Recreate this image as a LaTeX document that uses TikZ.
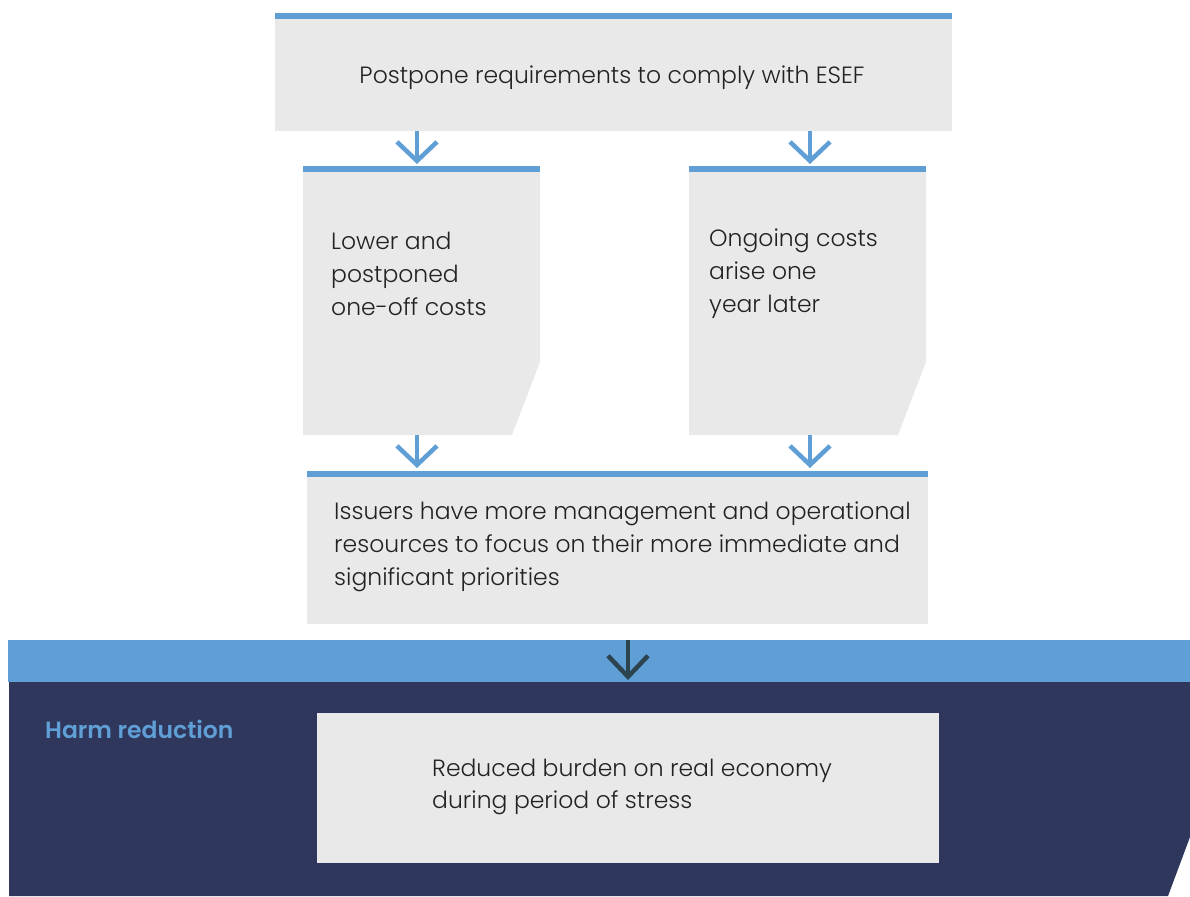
\documentclass[tikz,border=0pt]{standalone}
\usepackage{fontspec}
\setmainfont{Poppins}[UprightFont=* Light, BoldFont=* SemiBold]
\usetikzlibrary{arrows.meta}
\definecolor{barblue}{HTML}{5F9FD6}
\definecolor{boxgrey}{HTML}{E9E9E9}
\definecolor{navy}{HTML}{2F375C}
\definecolor{txt}{HTML}{222222}
\definecolor{darkarrow}{HTML}{2B4450}
\tikzset{
  x=1pt, y=-1pt,
  bodytext/.style={font=\fontsize{23.5}{33}\selectfont, text=txt, inner sep=0pt, align=left},
  flow/.style={draw=barblue, line width=4.5pt, -{Straight Barb[length=19pt,width=40pt]}},
  flowdark/.style={draw=darkarrow, line width=4.5pt, -{Straight Barb[length=21pt,width=40pt]}},
}
\begin{document}
\begin{tikzpicture}
\useasboundingbox (0,0) rectangle (1190,896);
% top box
\fill[boxgrey] (275,19) rectangle (952,131);
\fill[barblue] (275,13) rectangle (952,19);
\node[bodytext] (top) at (612,78) {Postpone requirements to comply with ESEF};
% middle boxes with cut corners
\fill[boxgrey] (303,172) -- (540,172) -- (540,362) -- (512,435) -- (303,435) -- cycle;
\fill[barblue] (303,166) rectangle (540,172);
\fill[boxgrey] (689,172) -- (926,172) -- (926,362) -- (898,435) -- (689,435) -- cycle;
\fill[barblue] (689,166) rectangle (926,172);
\node[bodytext, anchor=west] (left) at (331,274) {Lower and\\postponed\\one-off costs};
\node[bodytext, anchor=west] (right) at (709,274) {Ongoing costs\\arise one\\year later};
% lower box
\fill[boxgrey] (307,477) rectangle (928,624);
\fill[barblue] (307,471) rectangle (928,477);
\node[bodytext, anchor=west] (issuers) at (334,547) {Issuers have more management and operational\\resources to focus on their more immediate and\\significant priorities};
% harm reduction band
\fill[barblue] (8,640) rectangle (1190,682);
\fill[navy] (9,682) -- (1190,682) -- (1190,837) -- (1168,896) -- (9,896) -- cycle;
\node[font=\fontsize{23.5}{30}\bfseries\selectfont, text=barblue, inner sep=0pt, anchor=west] (harm) at (45,729) {Harm reduction};
\fill[boxgrey] (317,713) rectangle (939,863);
\node[bodytext, anchor=west, font=\fontsize{23.5}{32}\selectfont] (burden) at (432,787) {Reduced burden on real economy\\during period of stress};
% connectors
\coordinate (a1s) at (417,131); \coordinate (a1e) at (417,164);
\coordinate (a2s) at (810,131); \coordinate (a2e) at (810,164);
\coordinate (a3s) at (417,435); \coordinate (a3e) at (417,468);
\coordinate (a4s) at (810,435); \coordinate (a4e) at (810,468);
\coordinate (a5s) at (628,640); \coordinate (a5e) at (628,680);
\draw[flow] (a1s) -- (a1e);
\draw[flow] (a2s) -- (a2e);
\draw[flow] (a3s) -- (a3e);
\draw[flow] (a4s) -- (a4e);
\draw[flowdark] (a5s) -- (a5e);
\end{tikzpicture}
\end{document}
